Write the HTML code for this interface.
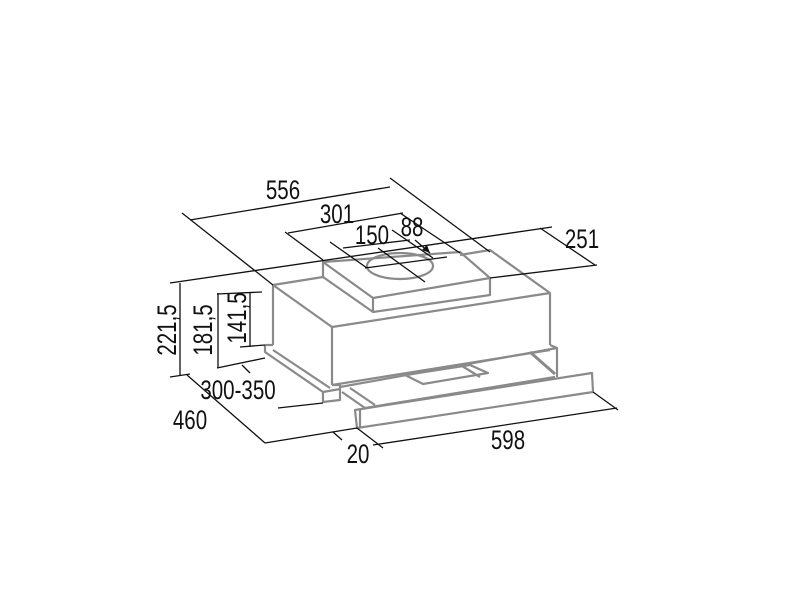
<!DOCTYPE html>
<html><head><meta charset="utf-8"><style>
html,body{margin:0;padding:0;background:#fff}
svg{display:block}
text{font-family:"Liberation Sans",sans-serif;font-size:27px;fill:#111}
</style></head><body>
<svg width="800" height="600" viewBox="0 0 800 600" xmlns="http://www.w3.org/2000/svg">
<g fill="none" stroke="#8a8a8a" stroke-width="2.2" stroke-linejoin="round">
<polyline points="323,277 273,285 332,327 550,293 490,250 460,255"/>
<line x1="273" y1="285" x2="273" y2="345"/>
<line x1="332" y1="327" x2="332" y2="385"/>
<line x1="550" y1="293" x2="550" y2="345"/>
<line x1="332" y1="385" x2="550" y2="350"/>
<polygon points="323,262 460,252 490,278 373,298"/>
<polyline points="323,262 323,277 373,312 490,295 490,278"/>
<line x1="373" y1="298" x2="373" y2="312"/>
<ellipse cx="400" cy="266" rx="33" ry="13"/>
<polyline points="265,345 273,345"/>
<polyline points="265,345 265,352 323,392 323,402 340,400 340,385 332,385"/>
<line x1="273" y1="350" x2="330" y2="388"/>
<line x1="323" y1="392" x2="340" y2="389"/>
<polyline points="340,387 557,348 557,377"/>
<polyline points="550,345 557,348"/>
<line x1="342" y1="392" x2="365" y2="408"/>
<line x1="350" y1="388" x2="375" y2="405"/>
<line x1="530" y1="352" x2="555" y2="374" stroke-width="3"/>
<line x1="365" y1="408" x2="555" y2="377"/>
<polygon points="405,375 470,365 488,373 423,384"/>
<line x1="462" y1="366" x2="480" y2="377"/>
<polygon points="355,410 592,373 593,392 357,428"/>
<line x1="360" y1="410" x2="360" y2="427"/>
</g>
<g fill="none" stroke="#111" stroke-width="1.3">
<line x1="190" y1="220" x2="390" y2="187"/>
<line x1="182" y1="213" x2="273" y2="285"/>
<line x1="390" y1="178" x2="490" y2="252"/>
<line x1="288" y1="233" x2="403" y2="213"/>
<line x1="285" y1="232" x2="323" y2="260"/>
<line x1="400" y1="213" x2="460" y2="253"/>
<line x1="330" y1="242" x2="367" y2="268"/>
<line x1="365" y1="268" x2="447" y2="257"/>
<line x1="343" y1="248" x2="410" y2="240"/>
<line x1="378" y1="248" x2="425" y2="282"/>
<line x1="392" y1="230" x2="433" y2="258"/>
<line x1="415" y1="240" x2="430" y2="253"/>
<line x1="170" y1="283" x2="552" y2="227"/>
<line x1="490" y1="278" x2="597" y2="265"/>
<line x1="540" y1="228" x2="595" y2="265"/>
<line x1="180" y1="283" x2="180" y2="376"/>
<line x1="218" y1="293" x2="218" y2="368"/>
<line x1="217" y1="294" x2="262" y2="292"/>
<line x1="250" y1="292" x2="250" y2="347"/>
<line x1="240" y1="347" x2="265" y2="345"/>
<line x1="217" y1="368" x2="265" y2="358"/>
<line x1="170" y1="377" x2="190" y2="374"/>
<line x1="242" y1="365" x2="250" y2="373"/>
<line x1="278" y1="408" x2="323" y2="403"/>
<line x1="187" y1="375" x2="265" y2="443"/>
<line x1="265" y1="443" x2="357" y2="428"/>
<line x1="333" y1="432" x2="342" y2="440"/>
<line x1="373" y1="445" x2="617" y2="408"/>
<line x1="357" y1="428" x2="383" y2="448"/>
<line x1="593" y1="392" x2="618" y2="410"/>
</g>
<polygon points="430,253 422,250 427,245" fill="#111"/>
<g>
<text x="283" y="199" text-anchor="middle" transform="translate(283 0) scale(0.76 1) translate(-283 0)">556</text>
<text x="337" y="223" text-anchor="middle" transform="translate(337 0) scale(0.76 1) translate(-337 0)">301</text>
<text x="372" y="244" text-anchor="middle" transform="translate(372 0) scale(0.76 1) translate(-372 0)">150</text>
<text x="412" y="236" text-anchor="middle" transform="translate(412 0) scale(0.76 1) translate(-412 0)">88</text>
<text x="582" y="248" text-anchor="middle" transform="translate(582 0) scale(0.76 1) translate(-582 0)">251</text>
<text transform="translate(176 330) rotate(-90) scale(0.76 1)" text-anchor="middle">221,5</text>
<text transform="translate(212 330) rotate(-90) scale(0.76 1)" text-anchor="middle">181,5</text>
<text transform="translate(246 318) rotate(-90) scale(0.76 1)" text-anchor="middle">141,5</text>
<text x="238" y="399" text-anchor="middle" transform="translate(238 0) scale(0.76 1) translate(-238 0)">300-350</text>
<text x="190" y="429" text-anchor="middle" transform="translate(190 0) scale(0.76 1) translate(-190 0)">460</text>
<text x="358" y="463" text-anchor="middle" transform="translate(358 0) scale(0.76 1) translate(-358 0)">20</text>
<text x="508" y="449" text-anchor="middle" transform="translate(508 0) scale(0.76 1) translate(-508 0)">598</text>
</g>
</svg>
</body></html>
